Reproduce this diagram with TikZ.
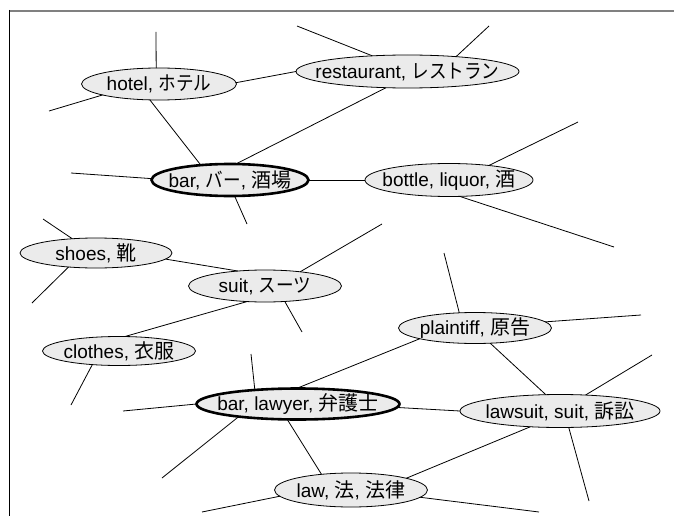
\documentclass[tikz,border=0pt]{standalone}
\usepackage{fontspec}
\setmainfont{Liberation Sans}
\newfontfamily\cjk{Noto Sans CJK JP}
\newfontfamily\kanafont{Noto Sans CJK JP}[FakeStretch=0.88]
\newcommand{\KJ}[1]{{\fontsize{20}{22}\cjk #1}}
\newcommand{\KN}[1]{{\fontsize{20}{22}\kanafont #1}}
\usetikzlibrary{shapes.geometric}
\definecolor{nodefill}{RGB}{235,235,235}
\definecolor{framegray}{RGB}{128,128,128}
\begin{document}
\begin{tikzpicture}[x=1pt,y=-1pt,
  nd/.style={ellipse, draw=black, fill=nodefill, line width=0.8pt, inner sep=0pt, outer sep=0pt},
  ndthick/.style={nd, line width=2.6pt},
  txt/.style={inner sep=0pt, font=\fontsize{19}{21}\selectfont},
  ln/.style={line width=0.8pt, black}]
\useasboundingbox (0,0) rectangle (674,516);
% frame
\draw[framegray, line width=2pt] (9,11) -- (674,11);
\draw[black, line width=1.2pt] (9.5,10) -- (9.5,516);

% free ends
\coordinate (hU) at (156,32);
\coordinate (hL) at (49,111);
\coordinate (rUL) at (297,26);
\coordinate (rUR) at (489,26);
\coordinate (b1L) at (71,173);
\coordinate (b1D) at (247,224);
\coordinate (boUR) at (578,122);
\coordinate (boDR) at (614,247);
\coordinate (shUL) at (43,219);
\coordinate (shDL) at (32,303);
\coordinate (suUR) at (382,224);
\coordinate (suDR) at (302,332);
\coordinate (clD) at (71,405);
\coordinate (plU) at (444,253);
\coordinate (plR) at (641,315);
\coordinate (blU) at (251,354);
\coordinate (blL) at (123,411);
\coordinate (blDL) at (162,478);
\coordinate (lsUR) at (652,355);
\coordinate (lsD) at (589,501);
\coordinate (lwL) at (202,512);
\coordinate (lwR) at (539,512);

% nodes
\node[nd, minimum width=155pt, minimum height=32pt] (hotel) at (159,84) {};
\node[nd, minimum width=223pt, minimum height=33pt] (rest) at (407.5,71.5) {};
\node[ndthick, minimum width=157pt, minimum height=32pt] (bar1) at (230,180) {};
\node[nd, minimum width=168pt, minimum height=33pt] (bottle) at (449,180) {};
\node[nd, minimum width=152pt, minimum height=30pt] (shoes) at (96,253) {};
\node[nd, minimum width=153pt, minimum height=32pt] (suit) at (265,286) {};
\node[nd, minimum width=153pt, minimum height=29pt] (clothes) at (119,351) {};
\node[nd, minimum width=153pt, minimum height=31pt] (plaint) at (475,328) {};
\node[ndthick, minimum width=203pt, minimum height=31pt] (blaw) at (298,404) {};
\node[nd, minimum width=200pt, minimum height=33pt] (lawsuit) at (560,411) {};
\node[nd, minimum width=153pt, minimum height=34pt] (law) at (351,490) {};

% texts
\node[txt] (hotelT) at (hotel.center) {hotel, \KN{ホテル}};
\node[txt] (restT) at (rest.center) {restaurant, \KN{レストラン}};
\node[txt] (bar1T) at (bar1.center) {bar, \KN{バー}, \KJ{酒場}};
\node[txt] (bottleT) at (bottle.center) {bottle, liquor, \KJ{酒}};
\node[txt] (shoesT) at (shoes.center) {shoes, \KJ{靴}};
\node[txt] (suitT) at (suit.center) {suit, \KN{スーツ}};
\node[txt] (clothesT) at (clothes.center) {clothes, \KJ{衣服}};
\node[txt] (plaintT) at (plaint.center) {plaintiff, \KJ{原告}};
\node[txt] (blawT) at (blaw.center) {bar, lawyer, \KJ{弁護士}};
\node[txt] (lawsuitT) at (lawsuit.center) {lawsuit, suit, \KJ{訴訟}};
\node[txt] (lawT) at (law.center) {law, \KJ{法}, \KJ{法律}};

% connectors between nodes
\draw[ln] (hotel.1.5) -- (rest.180);
\draw[ln] (hotel.240.6) -- (bar1.153.4);
\draw[ln] (rest.217.5) -- (bar1.70.6);
\draw[ln] (bar1.0) -- (bottle.180);
\draw[ln] (shoes.355.4) -- (suit.151);
\draw[ln] (suit.221.6) -- (clothes.68.2);
\draw[ln] (plaint.191.5) -- (blaw.96.7);
\draw[ln] (plaint.315) -- (lawsuit.131.4);
\draw[ln] (blaw.235.5) -- (law.152);
\draw[ln] (blaw.358.9) -- (lawsuit.180);
\draw[ln] (lawsuit.208.7) -- (law.12.8);

% connectors to free ends
\draw[ln] (hotel.100) -- (hU);
\draw[ln] (hotel.191) -- (hL);
\draw[ln] (rest.156) -- (rUL);
\draw[ln] (rest.17.4) -- (rUR);
\draw[ln] (bar1.179.3) -- (b1L);
\draw[ln] (bar1.286.4) -- (b1D);
\draw[ln] (bottle.20.7) -- (boUR);
\draw[ln] (bottle.303) -- (boDR);
\draw[ln] (shoes.149) -- (shUL);
\draw[ln] (shoes.207.3) -- (shDL);
\draw[ln] (suit.22.8) -- (suUR);
\draw[ln] (suit.322.7) -- (suDR);
\draw[ln] (clothes.207.4) -- (clD);
\draw[ln] (plaint.136.8) -- (plU);
\draw[ln] (plaint.5.9) -- (plR);
\draw[ln] (blaw.162.3) -- (blU);
\draw[ln] (blaw.180.6) -- (blL);
\draw[ln] (blaw.192.1) -- (blDL);
\draw[ln] (lawsuit.32.6) -- (lsUR);
\draw[ln] (lawsuit.298) -- (lsD);
\draw[ln] (law.185.3) -- (lwL);
\draw[ln] (law.354.7) -- (lwR);
\end{tikzpicture}
\end{document}
